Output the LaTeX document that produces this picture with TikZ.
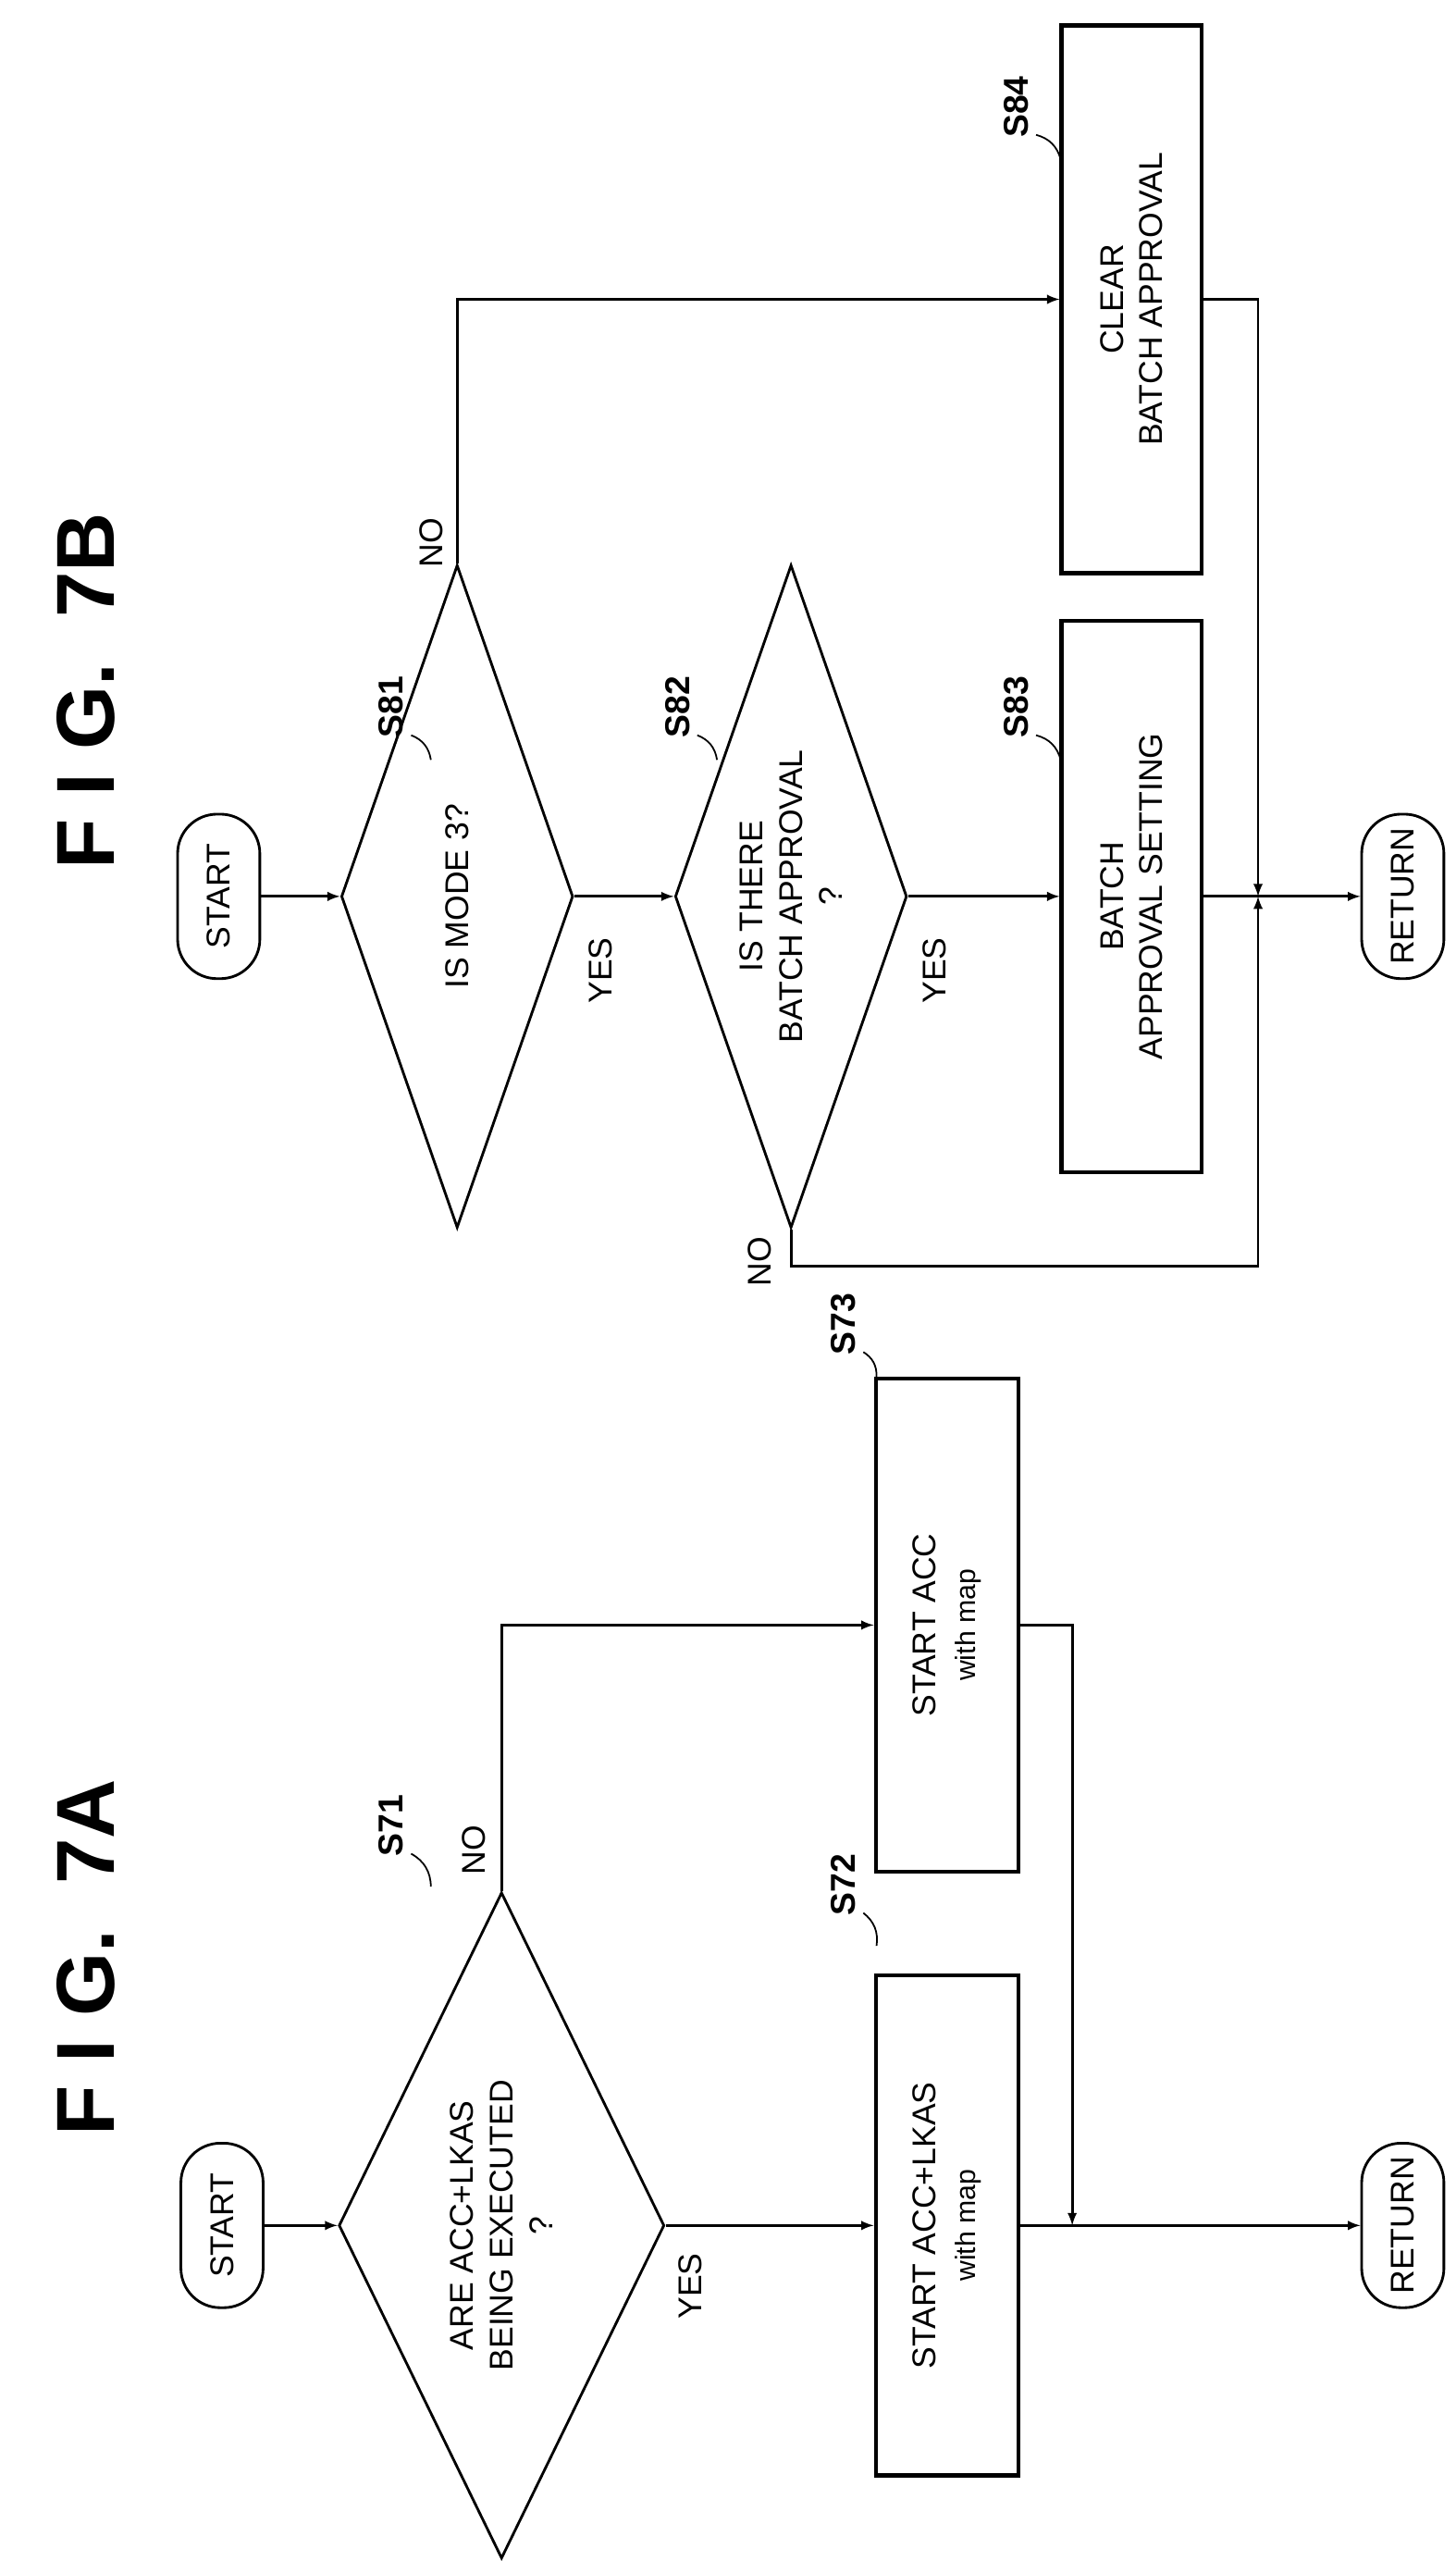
\documentclass[tikz,border=0pt]{standalone}
\usepackage{fontspec}
\setmainfont{Liberation Sans}
\usetikzlibrary{shapes.geometric, arrows}

\begin{document}
\begin{tikzpicture}[x=1pt, y=1pt, line width=1.6pt, >=latex,
  every node/.style={font=\fontsize{20}{24}\selectfont, rotate=90, align=center},
  term/.style={draw, rounded corners=24pt, minimum width=100pt, minimum height=50pt, inner sep=0pt},
  proc/.style={draw, line width=2.4pt, minimum width=304pt, minimum height=87pt, inner sep=0pt},
  dec/.style={draw, diamond, inner sep=0pt, minimum width=405pt, minimum height=198pt},
  steplabel/.style={font=\bfseries\fontsize{21}{24}\selectfont},
  title/.style={font=\bfseries\fontsize{50}{55}\selectfont}]

\useasboundingbox (0,0) rectangle (885,1557);

% FIG. 7A
\node[title] (t7a) at (52,367) {F I G.\ \ 7A};
\node[term] (startA) at (135,204) {START};
\node[dec] (s71) at (305,204) {};
\node (s71t) at (305,204) {ARE ACC+LKAS\\BEING EXECUTED\\?};
\node[proc] (s72) at (576,204) {START ACC+LKAS\\{\fontsize{17}{21}\selectfont with map}};
\node[proc, minimum width=300pt] (s73) at (576,569) {START ACC\\{\fontsize{17}{21}\selectfont with map}};
\node[term] (retA) at (853,204) {RETURN};
\coordinate (jA) at (652,204);

\draw[->] (startA) -- (s71);
\draw[->] (s71.south) -- (s72);
\draw[->] (s71.east) |- (s73);
\draw[->] (s72) -- (retA);
\draw[->] (s73.south) -| (jA);
\node (yA) at (420,167) {YES};
\node (nA) at (288,432) {NO};

\node[steplabel] (l71) at (238,447) {S71};
\node[steplabel] (l72) at (513,411) {S72};
\node[steplabel] (l73) at (513,752) {S73};
\draw[line width=1pt] (250,430) to[bend left=30] (262,410);
\draw[line width=1pt] (525,394) to[bend left=30] (533,374);
\draw[line width=1pt] (525,735) to[bend left=30] (533,720);

% FIG. 7B
\node[title] (t7b) at (52,1137) {F I G.\ \ 7B};
\node[term] (startB) at (133,1012) {START};
\node[dec, minimum width=403pt, minimum height=141pt] (s81) at (278,1012) {};
\node (s81t) at (278,1012) {IS MODE 3?};
\node[dec, minimum width=403pt, minimum height=141pt] (s82) at (481,1012) {};
\node (s82t) at (481,1012) {IS THERE\\BATCH APPROVAL\\?};
\node[proc, minimum width=335pt, minimum height=85pt] (s83) at (688,1012)
  {BATCH\\APPROVAL SETTING};
\node[proc, minimum width=333pt, minimum height=85pt] (s84) at (688,1375)
  {CLEAR\\BATCH APPROVAL};
\node[term] (retB) at (853,1012) {RETURN};
\coordinate (jB) at (765,1012);
\coordinate (nB) at (481,787);

\draw[->] (startB) -- (s81);
\draw[->] (s81.south) -- (s82.north);
\draw[->] (s81.east) |- (s84);
\draw[->] (s82.south) -- (s83);
\draw[->] (s83) -- (retB);
\draw[->] (s84.south) -| (jB);
\draw[->] (s82.west) -- (nB) -| (jB);
\node (yB1) at (365,967) {YES};
\node (yB2) at (568,967) {YES};
\node (nB1) at (262,1227) {NO};
\node (nB2) at (462,790) {NO};

\node[steplabel] (l81) at (238,1127) {S81};
\node[steplabel] (l82) at (412,1127) {S82};
\node[steplabel] (l83) at (618,1127) {S83};
\node[steplabel] (l84) at (618,1492) {S84};
\draw[line width=1pt] (250,1110) to[bend left=30] (262,1095);
\draw[line width=1pt] (424,1110) to[bend left=30] (436,1095);
\draw[line width=1pt] (630,1110) to[bend left=30] (645,1095);
\draw[line width=1pt] (630,1475) to[bend left=30] (645,1460);
\end{tikzpicture}
\end{document}
